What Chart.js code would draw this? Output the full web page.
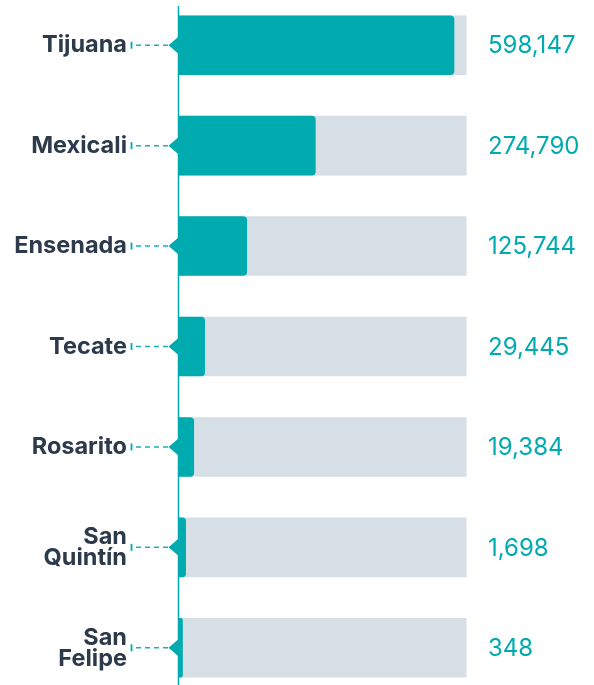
<!DOCTYPE html>
<html>
<head>
<meta charset="utf-8">
<script src="https://cdn.jsdelivr.net/npm/chart.js@4/dist/chart.umd.min.js"></script>
<style>
  html, body { margin: 0; padding: 0; background: #ffffff; overflow: hidden; width: 594px; height: 685px; }
  #wrap { position: absolute; left: 0; top: -5px; width: 594px; height: 703px; }
</style>
</head>
<body>
<div id="wrap"><canvas id="c"></canvas></div>
<script>
// Municipalities (two-line names split by "\n")
const categories = ["Tijuana", "Mexicali", "Ensenada", "Tecate", "Rosarito", "San\nQuintín", "San\nFelipe"];
// Displayed value labels
const valueLabels = ["598,147", "274,790", "125,744", "29,445", "19,384", "1,698", "348"];
// Bar length as share of the grey track (0-100)
const barShare = [95.7, 47.6, 23.8, 9.2, 5.4, 2.6, 1.5];
// Full grey track
const trackShare = [100, 100, 100, 100, 100, 100, 100];

const TEAL = "#00abb0";
const GREY = "#d6dee6";
const DARK = "#2c3a4b";

const decor = {
  id: "decor",
  afterDatasetsDraw(chart) {
    const ctx = chart.ctx;
    const meta = chart.getDatasetMeta(0);
    const xs = chart.scales.x;
    const x0 = xs.getPixelForValue(0);
    ctx.save();
    // axis line
    ctx.strokeStyle = TEAL;
    ctx.lineWidth = 1.5;
    ctx.beginPath();
    ctx.moveTo(x0, 11);
    ctx.lineTo(x0, chart.height);
    ctx.stroke();
    meta.data.forEach((bar, i) => {
      const y = bar.y;
      // triangle pointer
      ctx.fillStyle = TEAL;
      ctx.beginPath();
      ctx.moveTo(x0 + 0.5, y - 9);
      ctx.lineTo(x0 - 10, y);
      ctx.lineTo(x0 + 0.5, y + 9);
      ctx.closePath();
      ctx.fill();
      // dashed connector
      ctx.strokeStyle = "#1ab0b4";
      ctx.lineWidth = 1.5;
      ctx.setLineDash([5, 4]);
      ctx.beginPath();
      ctx.moveTo(136, y);
      ctx.lineTo(x0 - 10, y);
      ctx.stroke();
      ctx.setLineDash([]);
      // small tick
      ctx.strokeStyle = TEAL;
      ctx.lineWidth = 1.8;
      ctx.beginPath();
      ctx.moveTo(131.5, y - 3.5);
      ctx.lineTo(131.5, y + 3.5);
      ctx.stroke();
      // category label
      ctx.fillStyle = DARK;
      ctx.font = "bold 23.5px Inter, 'Noto Sans', sans-serif";
      ctx.textAlign = "right";
      ctx.textBaseline = "middle";
      const lines = categories[i].split("\n");
      if (lines.length === 1) {
        ctx.fillText(lines[0], 127, y);
      } else {
        ctx.fillText(lines[0], 127, y - 10);
        ctx.fillText(lines[1], 127, y + 11);
      }
      // value label
      ctx.fillStyle = TEAL;
      ctx.font = "24px Inter, 'Noto Sans', sans-serif";
      ctx.textAlign = "left";
      ctx.fillText(valueLabels[i], 488, y + 1);
    });
    ctx.restore();
  }
};

new Chart(document.getElementById("c"), {
  type: "bar",
  data: {
    labels: categories,
    datasets: [
      {
        data: barShare,
        backgroundColor: TEAL,
        borderRadius: { topLeft: 0, bottomLeft: 0, topRight: 4, bottomRight: 4 },
        borderSkipped: false,
        grouped: false,
        order: 0,
        barPercentage: 0.593,
        categoryPercentage: 1
      },
      {
        data: trackShare,
        backgroundColor: GREY,
        borderRadius: 0,
        grouped: false,
        order: 1,
        barPercentage: 0.593,
        categoryPercentage: 1
      }
    ]
  },
  options: {
    indexAxis: "y",
    responsive: true,
    maintainAspectRatio: false,
    animation: false,
    layout: { padding: { left: 178.5, right: 127.3, top: 0, bottom: 0 } },
    plugins: { legend: { display: false }, tooltip: { enabled: false } },
    scales: {
      x: { display: false, min: 0, max: 100 },
      y: { display: false }
    }
  },
  plugins: [decor]
});
</script>
</body>
</html>
